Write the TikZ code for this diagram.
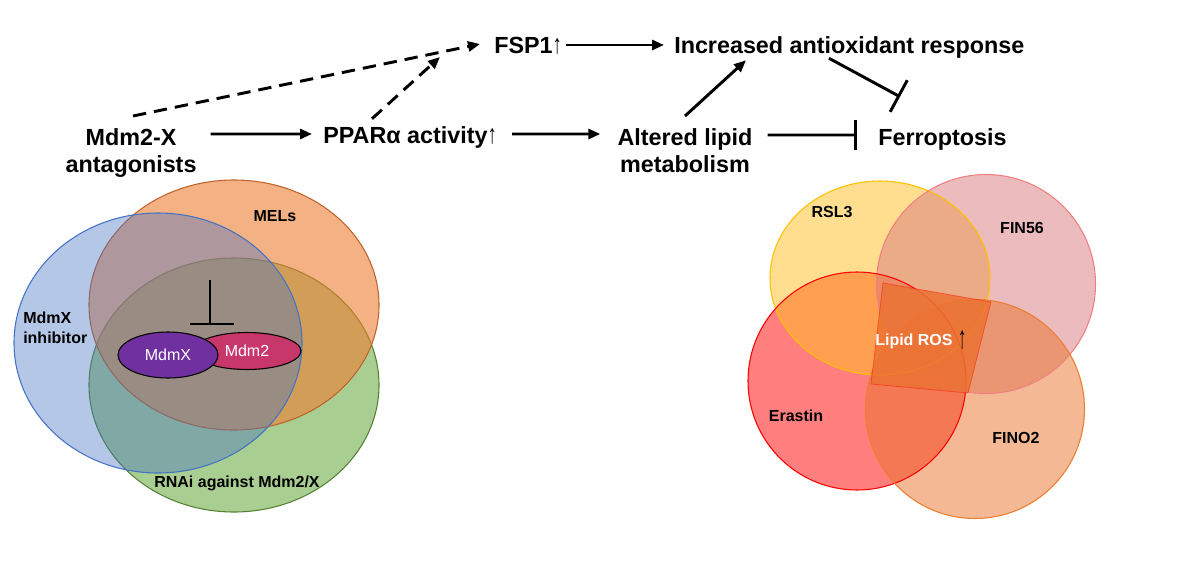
\documentclass[tikz,border=0pt]{standalone}
\usepackage{fontspec}
\setmainfont{Liberation Sans}
\usetikzlibrary{arrows.meta,calc,shapes.geometric}
\definecolor{vblue}{HTML}{4472C4}
\definecolor{vorange}{HTML}{ED7D31}
\definecolor{vorangeline}{HTML}{C0622A}
\definecolor{vgreen}{HTML}{70AD47}
\definecolor{vgreenline}{HTML}{548235}
\definecolor{mpurple}{HTML}{7030A0}
\definecolor{mcrimson}{HTML}{C83769}
\definecolor{fyellow}{RGB}{255,192,32}
\definecolor{fyellowline}{RGB}{255,192,0}
\definecolor{fpink}{RGB}{215,120,125}
\definecolor{fpinkline}{RGB}{240,128,128}
\definecolor{fred}{RGB}{255,0,0}
\definecolor{fpeach}{RGB}{233,115,41}
\definecolor{fpeachline}{RGB}{237,125,49}
\definecolor{fros}{RGB}{236,114,52}
\begin{document}
\begin{tikzpicture}[x=0.75pt,y=-0.75pt,
  mainone/.style={font=\bfseries\fontsize{17.5}{20.3}\selectfont, inner sep=0pt, text height=12.6pt, text depth=0pt},
  maintwo/.style={font=\bfseries\fontsize{17.5}{20.3}\selectfont, inner sep=0pt, align=center},
  smalllab/.style={font=\bfseries\fontsize{12}{15}\selectfont, inner sep=0pt},
  arr/.style={line width=2.2pt, -{Triangle[length=9pt,width=7.5pt]}},
  dasharr/.style={arr, dash pattern=on 10pt off 6pt},
  inhib/.style={line width=2.2pt, -{Bar[width=22pt]}},
  venn/.style={line width=0.8pt},
  protein/.style={ellipse, draw=black, line width=0.8pt, inner sep=0pt, text=white, font=\fontsize{12}{14}\selectfont}
]
\useasboundingbox (0,0) rectangle (1182,568);

% ---------- left Venn ----------
\draw[venn, draw=vgreenline, fill=vgreen, fill opacity=0.6] (234,385) ellipse [x radius=145, y radius=127];
\draw[venn, draw=vorangeline, fill=vorange, fill opacity=0.6] (234,305) ellipse [x radius=145, y radius=125];
\draw[venn, draw=vblue, fill=vblue, fill opacity=0.4] (158,343) ellipse [x radius=144, y radius=130];

\node[smalllab] (mels) at (275,216) {MELs};
\node[smalllab, align=left, anchor=west] (mdmxinh) at (23,328) {MdmX\\inhibitor};
\node[smalllab] (rnai) at (237,483) {RNAi against Mdm2/X};

\node[protein, fill=mcrimson, minimum width=81pt, minimum height=27.75pt] (mdm2) at (247,351) {Mdm2};
\node[protein, fill=mpurple, minimum width=75pt, minimum height=34.5pt] (mdmx) at (168,355) {MdmX};
\draw[line width=0.9pt] (210,280) -- (210,324);
\draw[line width=0.9pt] (190,324) -- (234,324);

% ---------- right Venn ----------
\fill[fred, opacity=0.5] (857,381) circle [radius=109];
\fill[fyellow, opacity=0.5] (880,278) ellipse [x radius=110, y radius=97];
\fill[fpink, opacity=0.5] (986,284) circle [radius=109.5];
\fill[fpeach, opacity=0.5] (975,409) circle [radius=109.5];
\draw[venn, fyellowline] (880,278) ellipse [x radius=110, y radius=97];
\draw[venn, fpinkline] (986,284) circle [radius=109.5];
\draw[venn, fred] (857,381) circle [radius=109];
\draw[venn, fpeachline] (975,409) circle [radius=109.5];
\draw[line width=0.6pt, draw=fred, draw opacity=0.4, fill=fros, fill opacity=0.85] (883,283) -- (991,302) -- (968,393) -- (871,384) -- cycle;

\node[smalllab] (rsl3) at (832,212) {RSL3};
\node[smalllab] (fin56) at (1022,228) {FIN56};
\node[smalllab] (erastin) at (796,416) {Erastin};
\node[smalllab] (fino2) at (1016,438) {FINO2};
\node[smalllab, text=white] (ros) at (921,340) {Lipid ROS\,\,\textcolor{black}{\raisebox{-2pt}{\scalebox{1.1}[2.0]{↑}}}};

% ---------- pathway text ----------
\node[maintwo, anchor=north] (mdm) at (131,128.6) {Mdm2-X\\antagonists};
\node[mainone, anchor=west] (ppar) at (323,135) {PPARα activity{\mdseries\scalebox{0.8}[1.15]{↑}}};
\node[mainone, anchor=west] (fsp) at (494,45) {FSP1{\mdseries\scalebox{0.8}[1.15]{↑}}};
\node[mainone, anchor=west] (inc) at (674,45) {Increased antioxidant response};
\node[maintwo, anchor=north] (alt) at (685,128.6) {Altered lipid\\metabolism};
\node[mainone, anchor=west] (fer) at (878,137) {Ferroptosis};

% ---------- connectors ----------
\draw[arr] ($(mdm.north east)+(14,5.4)$) -- ($(ppar.west)+(-11,-1)$);
\draw[arr] ($(ppar.east)+(15,-1)$) -- ($(alt.north west)+(-17,5.4)$);
\draw[inhib] ($(alt.north east)+(15,6.4)$) -- ($(fer.west)+(-21,-2)$);
\draw[arr] ($(fsp.east)+(4,0)$) -- ($(inc.west)+(-10,0)$);
\draw[arr] ($(alt.north)+(0,-12.6)$) -- ($(inc.south west)+(72,6.6)$);
\draw[line width=2.2pt, -{Bar[width=27pt]}] ($(inc.south west)+(155,4.6)$) -- ($(fer.north west)+(22,-31.6)$);
\draw[dasharr] ($(mdm.north)+(2,-12.6)$) -- ($(fsp.west)+(-14,-1)$);
\draw[dasharr] ($(ppar.north west)+(49,-7.6)$) -- ($(fsp.west)+(-54,12)$);
\end{tikzpicture}
\end{document}
